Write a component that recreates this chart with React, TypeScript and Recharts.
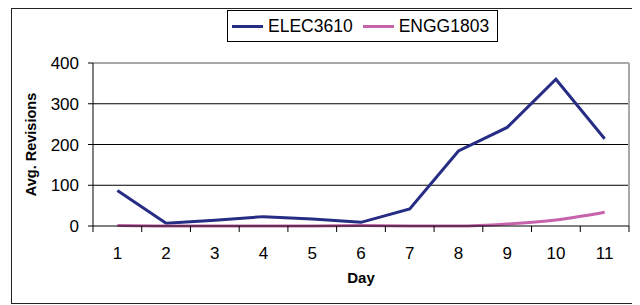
import { LineChart, Line, XAxis, YAxis, ReferenceLine, Legend } from "recharts";

const days = [1, 2, 3, 4, 5, 6, 7, 8, 9, 10, 11];
const elec3610 = [87, 7, 14, 23, 17, 9, 42, 184, 242, 360, 214];
const engg1803 = [1, 0, 0, 0, 0, 1, 0, 0, 5, 15, 34];
const yTicks = [0, 100, 200, 300, 400];
const gridLines = [100, 200, 300];

const data = days.map((d, i) => ({ day: d, ELEC3610: elec3610[i], ENGG1803: engg1803[i] }));
const bounds = [...days.map((d) => d - 0.5), days[days.length - 1] + 0.5];

const FONT = "'Liberation Sans', Arial, sans-serif";
const NAVY = "#272d84";
const PINK = "#c663aa";

function LegendBox() {
  const items = [
    { name: "ELEC3610", color: NAVY },
    { name: "ENGG1803", color: PINK },
  ];
  return (
    <div
      style={{
        border: "1px solid #000",
        background: "#fff",
        display: "flex",
        alignItems: "center",
        height: 30,
        padding: "0 8px 0 4px",
        fontFamily: FONT,
        fontSize: 17.5,
        color: "#000",
        whiteSpace: "nowrap",
      }}
    >
      {items.map((it, i) => (
        <span key={it.name} style={{ display: "flex", alignItems: "center", marginLeft: i ? 10 : 0 }}>
          <span style={{ display: "inline-block", width: 31, height: 3, background: it.color, marginRight: 5 }} />
          {it.name}
        </span>
      ))}
    </div>
  );
}

function YTitle(props: any) {
  const vb = props.viewBox;
  const x = vb.x + 24;
  const y = vb.y + vb.height / 2;
  return (
    <text
      x={x}
      y={y}
      transform={`rotate(-90, ${x}, ${y})`}
      textAnchor="middle"
      fontFamily={FONT}
      fontWeight="bold"
      fontSize={14.5}
      fill="#000"
    >
      Avg. Revisions
    </text>
  );
}

export default function App() {
  return (
    <div
      style={{
        marginLeft: 3,
        width: 626,
        height: 294,
        border: "1px solid #222",
        background: "#fff",
        fontFamily: FONT,
      }}
    >
      <LineChart width={626} height={294} data={data} margin={{ top: 54, right: 9, bottom: 0, left: 0 }}>
        {/* axis line + ticks between the days */}
        <XAxis
          xAxisId="a"
          type="number"
          dataKey="day"
          domain={[0.5, 11.5]}
          ticks={bounds}
          interval={0}
          tick={() => <g />}
          tickSize={6}
          stroke="#000"
          height={1}
          allowDataOverflow
        />
        {/* day labels */}
        <XAxis
          xAxisId="b"
          type="number"
          dataKey="day"
          domain={[0.5, 11.5]}
          ticks={days}
          interval={0}
          axisLine={false}
          tickLine={false}
          tickSize={0}
          tickMargin={20}
          tick={{ fontSize: 17, fill: "#000", fontFamily: FONT }}
          height={76}
          allowDataOverflow
          label={{ value: "Day", position: "insideBottom", offset: 20, fontSize: 15, fontWeight: "bold", fill: "#000", fontFamily: FONT }}
        />
        <YAxis
          domain={[0, 400]}
          ticks={yTicks}
          interval={0}
          width={81}
          stroke="#000"
          tickSize={5}
          tickMargin={9}
          tick={{ fontSize: 17, fill: "#000", fontFamily: FONT }}
          label={<YTitle />}
        />
        {gridLines.map((v) => (
          <ReferenceLine key={v} y={v} xAxisId="b" stroke="#000" strokeWidth={1} />
        ))}
        <ReferenceLine y={400} xAxisId="b" stroke="#a8a8a8" strokeWidth={2} />
        <ReferenceLine x={11.5} xAxisId="b" stroke="#a8a8a8" strokeWidth={2} />
        <Legend
          verticalAlign="middle"
          layout="horizontal"
          wrapperStyle={{ top: 1, left: 215, width: "auto", height: "auto" }}
          content={() => <LegendBox />}
        />
        <Line xAxisId="b" type="linear" dataKey="ELEC3610" stroke={NAVY} strokeWidth={3} dot={false} isAnimationActive={false} />
        <Line xAxisId="b" type="monotone" dataKey="ENGG1803" stroke={PINK} strokeWidth={3} dot={false} isAnimationActive={false} />
      </LineChart>
    </div>
  );
}
